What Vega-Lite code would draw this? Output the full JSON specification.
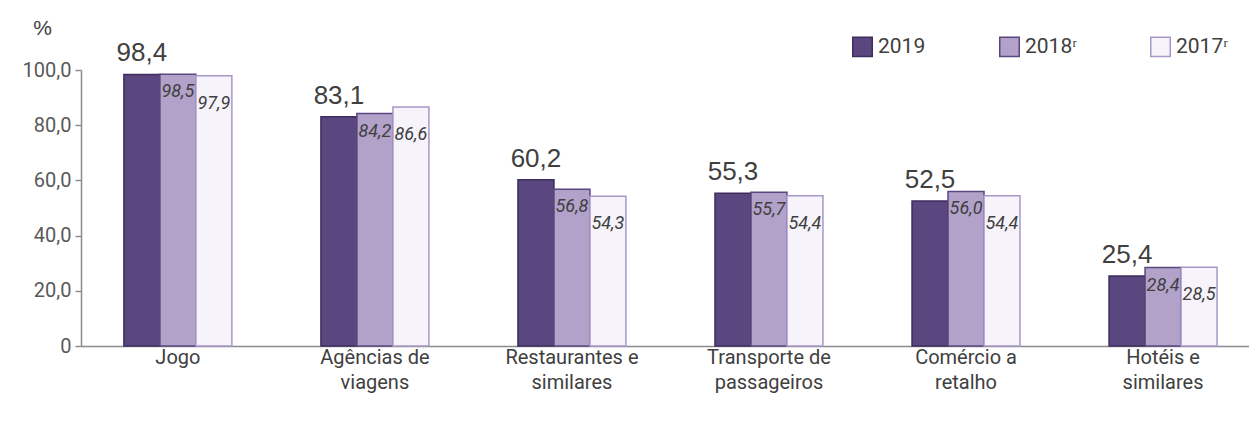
{
  "$schema": "https://vega.github.io/schema/vega-lite/v6.json",
  "autosize": {"type": "none"},
  "width": 1168,
  "height": 276,
  "padding": {"left": 81, "top": 70, "right": 0, "bottom": 75},
  "background": "white",
  "config": {
    "view": {"stroke": null},
    "locale": {"number": {"decimal": ",", "thousands": ".", "grouping": [3], "currency": ["R$", ""]}},
    "font": "Roboto"
  },
  "data": {
    "values": [
      {"categoria": "Jogo", "serie": "2019", "valor": 98.4},
      {"categoria": "Jogo", "serie": "2018ʳ", "valor": 98.5},
      {"categoria": "Jogo", "serie": "2017ʳ", "valor": 97.9},
      {"categoria": "Agências de viagens", "serie": "2019", "valor": 83.1},
      {"categoria": "Agências de viagens", "serie": "2018ʳ", "valor": 84.2},
      {"categoria": "Agências de viagens", "serie": "2017ʳ", "valor": 86.6},
      {"categoria": "Restaurantes e similares", "serie": "2019", "valor": 60.2},
      {"categoria": "Restaurantes e similares", "serie": "2018ʳ", "valor": 56.8},
      {"categoria": "Restaurantes e similares", "serie": "2017ʳ", "valor": 54.3},
      {"categoria": "Transporte de passageiros", "serie": "2019", "valor": 55.3},
      {"categoria": "Transporte de passageiros", "serie": "2018ʳ", "valor": 55.7},
      {"categoria": "Transporte de passageiros", "serie": "2017ʳ", "valor": 54.4},
      {"categoria": "Comércio a retalho", "serie": "2019", "valor": 52.5},
      {"categoria": "Comércio a retalho", "serie": "2018ʳ", "valor": 56.0},
      {"categoria": "Comércio a retalho", "serie": "2017ʳ", "valor": 54.4},
      {"categoria": "Hotéis e similares", "serie": "2019", "valor": 25.4},
      {"categoria": "Hotéis e similares", "serie": "2018ʳ", "valor": 28.4},
      {"categoria": "Hotéis e similares", "serie": "2017ʳ", "valor": 28.5}
    ]
  },
  "encoding": {
    "x": {
      "field": "categoria", "type": "nominal", "sort": null,
      "scale": {"paddingInner": 0.452, "paddingOuter": 0.19, "align": 0.573},
      "axis": {
        "title": null, "labelAngle": 0, "ticks": false,
        "domainColor": "#8c8c8c", "domainWidth": 1.5,
        "labelFont": "Roboto", "labelFontSize": 20, "labelColor": "#404040",
        "labelLineHeight": 25, "labelPadding": 1, "labelLimit": 300,
        "labelExpr": "length(split(datum.label, ' ')) > 2 ? [join(slice(split(datum.label, ' '), 0, 2), ' '), join(slice(split(datum.label, ' '), 2), ' ')] : datum.label"
      }
    },
    "xOffset": {
      "field": "serie", "type": "nominal",
      "sort": ["2019", "2018ʳ", "2017ʳ"],
      "scale": {"domain": ["2019", "2018ʳ", "2017ʳ"], "paddingInner": 0, "paddingOuter": 0}
    },
    "y": {
      "field": "valor", "type": "quantitative",
      "scale": {"domain": [0, 100], "nice": false},
      "axis": {
        "values": [0, 20, 40, 60, 80, 100], "format": ".1f",
        "labelExpr": "datum.value == 0 ? '0' : datum.label",
        "grid": false, "domainColor": "#8c8c8c", "domainWidth": 1.5,
        "tickColor": "#8c8c8c", "tickSize": 6, "tickWidth": 1.5,
        "labelFont": "Roboto", "labelFontSize": 20, "labelColor": "#595959", "labelPadding": 4,
        "title": "%", "titleAngle": 0, "titleX": -39, "titleY": -42, "titleAlign": "center", "titleBaseline": "middle",
        "titleFont": "Liberation Sans", "titleFontSize": 21, "titleFontWeight": "normal", "titleColor": "#404040"
      }
    }
  },
  "layer": [
    {
      "mark": {"type": "bar", "strokeWidth": 1.5},
      "encoding": {
        "fill": {
          "field": "serie", "type": "nominal",
          "scale": {"domain": ["2019", "2018ʳ", "2017ʳ"], "range": ["#5b477f", "#b2a2ca", "#f6f3fa"]},
          "legend": {
            "title": null, "orient": "none", "direction": "horizontal", "legendX": 771, "legendY": -34,
            "symbolType": "square", "symbolSize": 380, "symbolStrokeWidth": 1.5, "symbolOpacity": 1,
            "labelFont": "Roboto", "labelFontSize": 21, "labelColor": "#404040",
            "labelOffset": 5, "columnPadding": 70
          }
        },
        "stroke": {
          "field": "serie", "type": "nominal",
          "scale": {"domain": ["2019", "2018ʳ", "2017ʳ"], "range": ["#3e2c5c", "#5b477f", "#a898c8"]},
          "legend": {
            "title": null, "orient": "none", "direction": "horizontal", "legendX": 771, "legendY": -34,
            "symbolType": "square", "symbolSize": 380, "symbolStrokeWidth": 1.5, "symbolOpacity": 1,
            "labelFont": "Roboto", "labelFontSize": 21, "labelColor": "#404040",
            "labelOffset": 5, "columnPadding": 70
          }
        }
      }
    },
    {
      "transform": [{"filter": "datum.serie == '2019'"}],
      "mark": {"type": "text", "baseline": "alphabetic", "dy": -13, "font": "Liberation Sans", "fontSize": 26, "color": "#404040"},
      "encoding": {"text": {"field": "valor", "type": "quantitative", "format": ".1f"}}
    },
    {
      "transform": [{"filter": "datum.serie == '2018ʳ'"}],
      "mark": {"type": "text", "baseline": "middle", "dy": 18, "font": "Roboto", "fontStyle": "italic", "fontSize": 18, "color": "#404040"},
      "encoding": {"text": {"field": "valor", "type": "quantitative", "format": ".1f"}}
    },
    {
      "transform": [{"filter": "datum.serie == '2017ʳ'"}],
      "mark": {"type": "text", "baseline": "middle", "dy": 28, "font": "Roboto", "fontStyle": "italic", "fontSize": 18, "color": "#404040"},
      "encoding": {"text": {"field": "valor", "type": "quantitative", "format": ".1f"}}
    }
  ]
}
